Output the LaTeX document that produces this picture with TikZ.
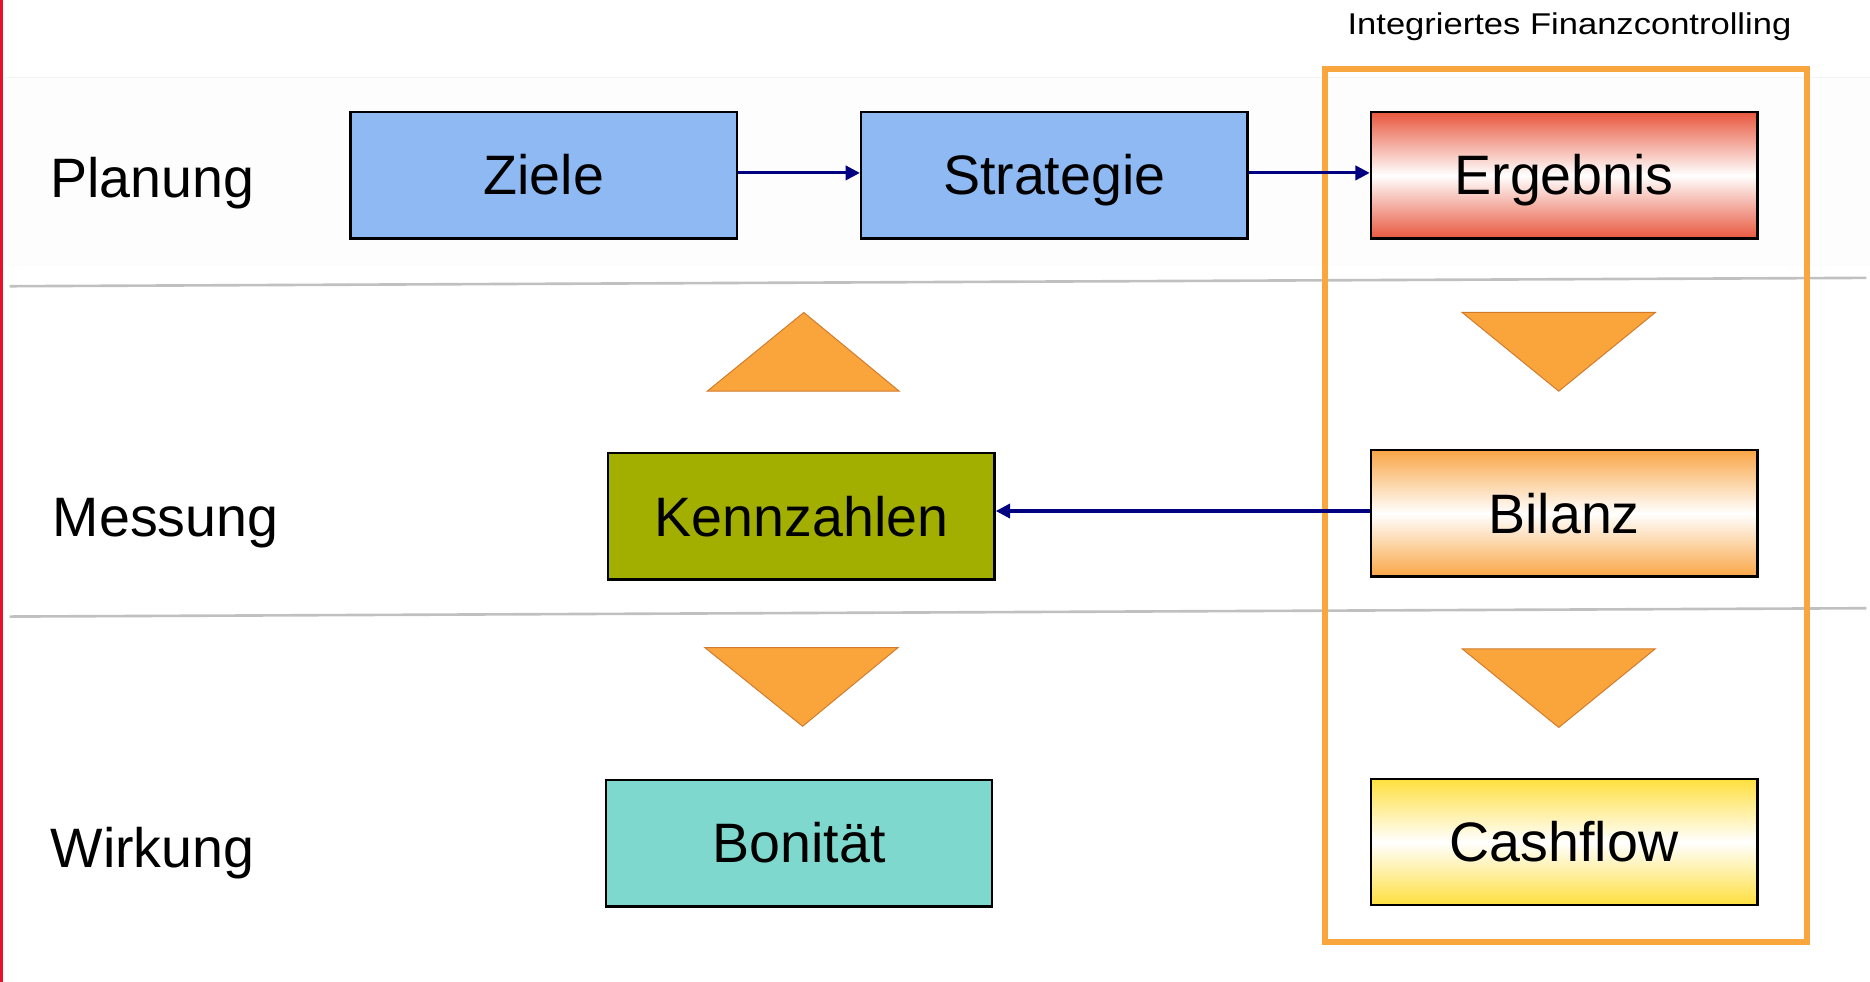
\documentclass[tikz,border=0pt]{standalone}
\usepackage{fontspec}
\setmainfont{Liberation Sans}
\usetikzlibrary{arrows.meta}
\definecolor{navyarrow}{HTML}{000080}
\definecolor{zblue}{HTML}{8FB9F3}
\definecolor{kolive}{HTML}{A2AF00}
\definecolor{bteal}{HTML}{7FD8CE}
\definecolor{ered}{HTML}{E8573E}
\definecolor{borange}{HTML}{F9A646}
\definecolor{cyellow}{HTML}{FFDF3E}
\definecolor{frameor}{HTML}{F9A63E}
\definecolor{trior}{HTML}{F9A53C}
\definecolor{triedge}{HTML}{D27A2C}
\definecolor{sepgray}{HTML}{C0C0C0}
\definecolor{leftred}{HTML}{E8102A}
\definecolor{bandtint}{HTML}{FDFDFD}
\definecolor{bandline}{HTML}{F4F4F4}
\tikzset{
  x=0.5pt, y=-0.5pt,
  box/.style={draw=black, line width=1pt, minimum width=162pt, minimum height=53pt,
    inner sep=0pt, text height=16.5pt, text depth=0pt,
    font=\fontsize{23.3}{27}\selectfont},
  rowlabel/.style={anchor=base west, inner sep=0pt, font=\fontsize{23.3}{27}\selectfont},
  grad/.style={top color=#1, bottom color=#1, middle color=white},
  arr/.style={draw=navyarrow, line width=1.3pt, -{Triangle[length=6pt,width=6pt]}},
  tri/.style={fill=trior, draw=triedge, line width=0.4pt, line join=miter},
  sep/.style={draw=sepgray, line width=1.1pt}
}
\begin{document}
\begin{tikzpicture}
\useasboundingbox (0,0) rectangle (1568,823);
% faint band of the planning row
\fill[bandtint] (4,65) rectangle (1568,224);
\draw[bandline, line width=0.4pt] (4,65) -- (1568,65);
% left red rule
\draw[leftred, line width=1.3pt] (1.3,0) -- (1.3,823);
% separators
\draw[sep] (8,240) -- (1565,233);
\draw[sep] (8,517) -- (1565,510);
% title
\node[anchor=base, inner sep=0pt, font=\fontsize{12.6}{14}\selectfont] (title) at (1316,29)
  {\scalebox{1.15}[1]{Integriertes Finanzcontrolling}};
% frame
\draw[frameor, line width=2.6pt] (1111,58) rectangle (1515,790);
% row labels
\node[rowlabel] (plan) at (42,166) {Planung};
\node[rowlabel] (mess) at (44,450) {Messung};
\node[rowlabel] (wirk) at (42,727) {Wirkung};
% boxes
\node[box, fill=zblue] (zi) at (456,147) {Ziele};
\node[box, fill=zblue] (st) at (884,147) {Strategie};
\node[box, grad=ered] (er) at (1311.5,147) {Ergebnis};
\node[box, fill=kolive] (ke) at (672,433) {Kennzahlen};
\node[box, grad=borange] (bi) at (1311.5,430.5) {Bilanz};
\node[box, fill=bteal] (bo) at (670,707) {Bonität};
\node[box, grad=cyellow] (ca) at (1311.5,706) {Cashflow};
% triangles
\draw[tri] (593,328) -- (674,262) -- (754,328) -- cycle;
\draw[tri] (1226,262) -- (1388,262) -- (1307,328) -- cycle;
\draw[tri] (591,543) -- (753,543) -- (673,609) -- cycle;
\draw[tri] (1226,544) -- (1388,544) -- (1307,610) -- cycle;
% arrows
\draw[arr] ([yshift=1pt]zi.east) -- ([yshift=1pt]st.west);
\draw[arr] ([yshift=1pt]st.east) -- ([yshift=1pt]er.west);
\draw[arr] ([yshift=1pt]bi.west) -- ([yshift=1pt]bi.west -| ke.east);
\end{tikzpicture}
\end{document}
